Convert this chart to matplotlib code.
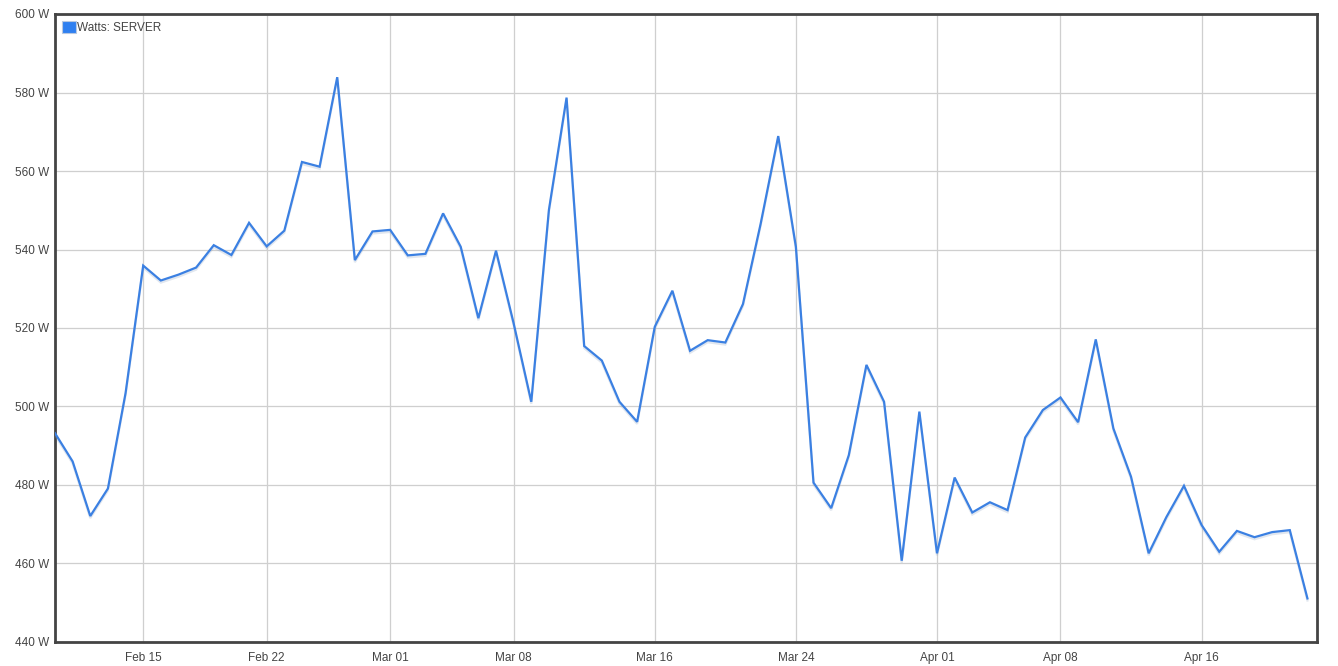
import matplotlib
matplotlib.use("Agg")
import matplotlib.pyplot as plt
import matplotlib.dates as mdates
import matplotlib.patheffects as pe
from matplotlib.patches import Patch
import numpy as np
import datetime as dt

plt.rcParams['font.family'] = ['Liberation Sans', 'DejaVu Sans']

start_date = dt.datetime(2023, 2, 10)
watts = [493.2, 486.0, 472.1, 479.1, 503.4, 535.9, 532.1, 533.6, 535.4, 541.1,
         538.6, 546.8, 540.8, 544.8, 562.3, 561.1, 583.9, 537.3, 544.6, 545.0,
         538.5, 538.9, 549.2, 540.7, 522.5, 539.7, 521.2, 501.2, 550.1, 578.7,
         515.4, 511.7, 501.2, 496.1, 520.3, 529.5, 514.2, 516.9, 516.3, 526.1,
         546.5, 568.9, 540.7, 480.6, 474.1, 487.6, 510.6, 501.2, 460.7, 498.7,
         462.6, 481.9, 473.0, 475.6, 473.6, 492.1, 499.1, 502.3, 496.0, 517.1,
         494.4, 482.1, 462.6, 471.8, 479.8, 469.8, 463.0, 468.3, 466.7, 468.0,
         468.5, 451.1]
dates = [start_date + dt.timedelta(days=i) for i in range(len(watts))]

tick_dates = [dt.datetime(2023, 2, 15), dt.datetime(2023, 2, 22), dt.datetime(2023, 3, 1),
              dt.datetime(2023, 3, 8), dt.datetime(2023, 3, 16), dt.datetime(2023, 3, 24),
              dt.datetime(2023, 4, 1), dt.datetime(2023, 4, 8), dt.datetime(2023, 4, 16)]
tick_labels = ["Feb 15", "Feb 22", "Mar 01", "Mar 08", "Mar 16", "Mar 24",
               "Apr 01", "Apr 08", "Apr 16"]
y_ticks = [440, 460, 480, 500, 520, 540, 560, 580, 600]
series_label = "Watts: SERVER"
line_color = "#3b80e2"

fig = plt.figure(figsize=(13.38, 6.66), dpi=100)
ax = fig.add_axes([55/1338, (666-642)/666, (1317-55)/1338, (642-14)/666])

ax.plot(dates, watts, color=line_color, lw=1.6, solid_joinstyle='miter',
        path_effects=[pe.SimpleLineShadow(offset=(0, -1.5), shadow_color='#8aa0c0', alpha=0.25),
                      pe.Normal()], zorder=3)

ax.set_ylim(440, 600)
ax.set_xlim(dates[0], dates[-1] + dt.timedelta(hours=13))
ax.set_yticks(y_ticks)
ax.set_yticklabels([f"{v} W" for v in y_ticks])
ax.set_xticks(tick_dates)
ax.set_xticklabels(tick_labels)
ax.tick_params(axis='both', length=0, labelsize=8.5, colors='#444444')
ax.tick_params(axis='y', pad=4)
ax.tick_params(axis='x', pad=7)
ax.grid(True, color='#cfcfcf', lw=0.9)
ax.set_axisbelow(True)
for s in ax.spines.values():
    s.set_color('#444444')
    s.set_linewidth(2)

handle = Patch(facecolor='#2f7ff0', edgecolor='#b8c8e0', lw=0.8)
leg = ax.legend([handle], [series_label], loc='upper left', frameon=False,
                handlelength=1.2, handleheight=1.2, handletextpad=0.1,
                borderaxespad=0.3, borderpad=0.3, fontsize=8.5)
for t in leg.get_texts():
    t.set_color('#444444')

fig.savefig("out.png", dpi=100, facecolor='white')
